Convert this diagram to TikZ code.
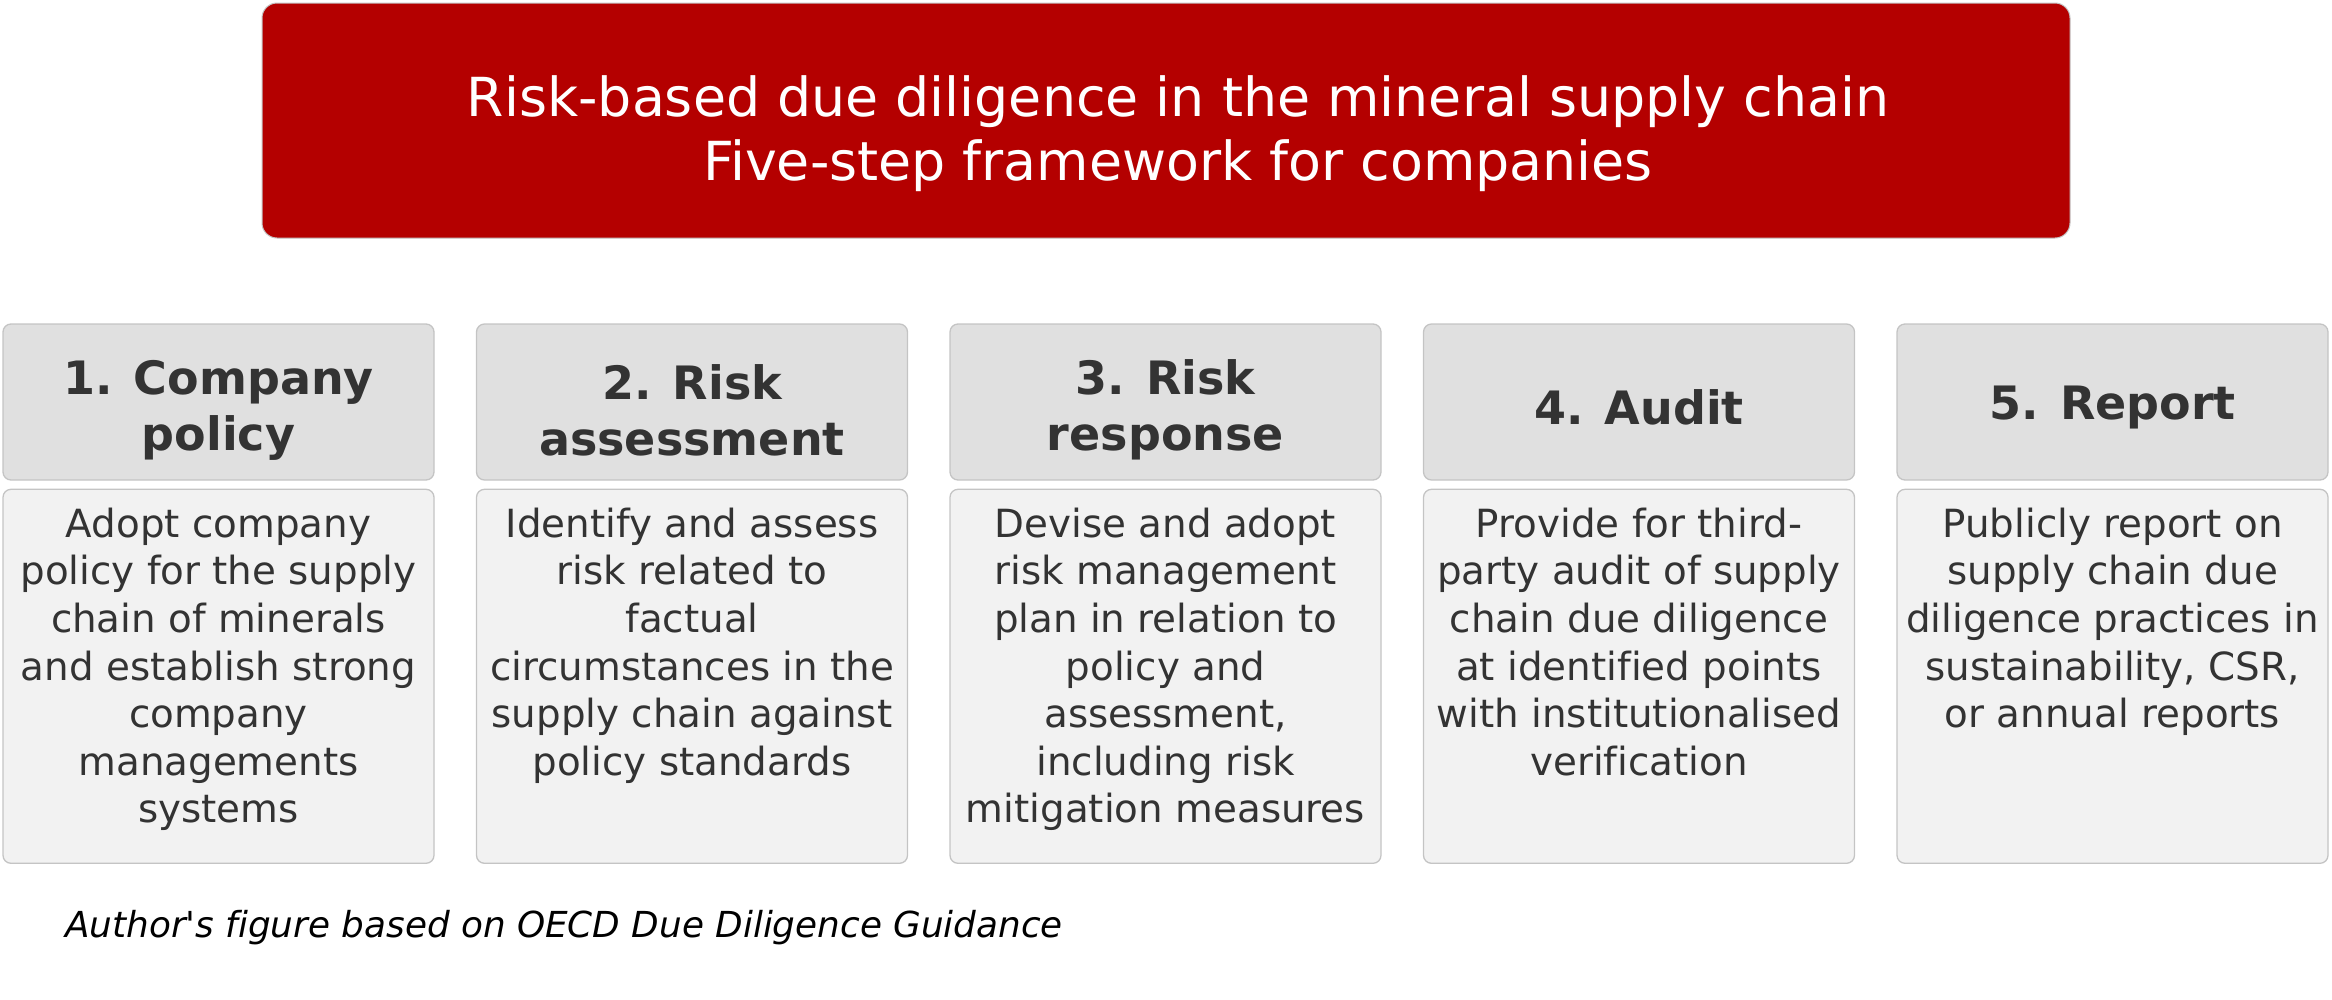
\documentclass[tikz,border=0pt]{standalone}
\usepackage{fontspec}
\setmainfont{DejaVu Sans}[Ligatures=NoCommon]
\usetikzlibrary{positioning}

\definecolor{titlered}{RGB}{180,0,0}
\definecolor{headgray}{RGB}{224,224,224}
\definecolor{bodygray}{RGB}{242,242,242}
\definecolor{boxedge}{RGB}{196,196,196}
\definecolor{textgray}{RGB}{51,51,51}

\begin{document}
\begin{tikzpicture}[x=1pt, y=-1pt,
	headbox/.style={draw=boxedge, fill=headgray, line width=1.3pt, rounded corners=8pt,
		minimum width=431pt, minimum height=156pt, inner sep=0pt},
	headtext/.style={inner sep=0pt, align=center, text=textgray,
		font=\fontsize{46}{56}\selectfont\bfseries},
	bodybox/.style={draw=boxedge, fill=bodygray, line width=1.3pt, rounded corners=8pt,
		minimum width=431pt, minimum height=374pt, inner sep=0pt},
	bodytext/.style={inner sep=0pt, align=center, text=textgray,
		font=\fontsize{38.8}{47.6}\selectfont}]
	% Размер картинки
	\useasboundingbox (0,0) rectangle (2332,999);
	
	% Заголовок
	\node[draw=boxedge, fill=titlered, line width=1pt, rounded corners=15pt,
		minimum width=1808pt, minimum height=235pt] (title) at (1166,120.5) {};
	\node[text=white, align=center, font=\fontsize{53.8}{64}\selectfont, inner sep=0pt]
		(titletext) at ([xshift=12pt, yshift=-13pt]title.center)
		{Risk-based due diligence in the mineral supply chain\\Five-step framework for companies};
	
	% Шаги
	\node[headbox] (policy) at (218.5,402) {};
	\node[headbox] (assess) at (692,402) {};
	\node[headbox] (respond) at (1165.5,402) {};
	\node[headbox] (audit) at (1639,402) {};
	\node[headbox] (report) at (2112.5,402) {};
	
	\node[headtext] (policyname) at ([yshift=-8pt]policy.center) {1. Company\\policy};
	\node[headtext] (assessname) at ([yshift=-8pt]assess.center) {2. Risk\\assessment};
	\node[headtext] (respondname) at ([yshift=-8pt]respond.center) {3. Risk\\response};
	\node[headtext] (auditname) at ([yshift=-5pt]audit.center) {4. Audit};
	\node[headtext] (reportname) at ([yshift=-6pt]report.center) {5. Report};
	
	% Описания шагов
	\node[bodybox, below=8pt of policy] (policybody) {};
	\node[bodybox, below=8pt of assess] (assessbody) {};
	\node[bodybox, below=8pt of respond] (respondbody) {};
	\node[bodybox, below=8pt of audit] (auditbody) {};
	\node[bodybox, below=8pt of report] (reportbody) {};
	
	\node[bodytext, below=19pt of policybody.north] (policytext)
		{Adopt company\\policy for the supply\\chain of minerals\\and establish strong\\company\\managements\\systems};
	\node[bodytext, below=19pt of assessbody.north] (assesstext)
		{Identify and assess\\risk related to\\factual\\circumstances in the\\supply chain against\\policy standards};
	\node[bodytext, below=19pt of respondbody.north] (respondtext)
		{Devise and adopt\\risk management\\plan in relation to\\policy and\\assessment,\\including risk\\mitigation measures};
	\node[bodytext, below=19pt of auditbody.north] (audittext)
		{Provide for third-\\party audit of supply\\chain due diligence\\at identified points\\with institutionalised\\verification};
	\node[bodytext, below=19pt of reportbody.north] (reporttext)
		{Publicly report on\\supply chain due\\diligence practices in\\sustainability, CSR,\\or annual reports};
	
	% Подпись
	\node[anchor=west, inner sep=0pt, font=\fontsize{35.8}{43}\selectfont\itshape] (source) at (65,928)
		{Author\textquotesingle s figure based on OECD Due Diligence Guidance};
\end{tikzpicture}
\end{document}
